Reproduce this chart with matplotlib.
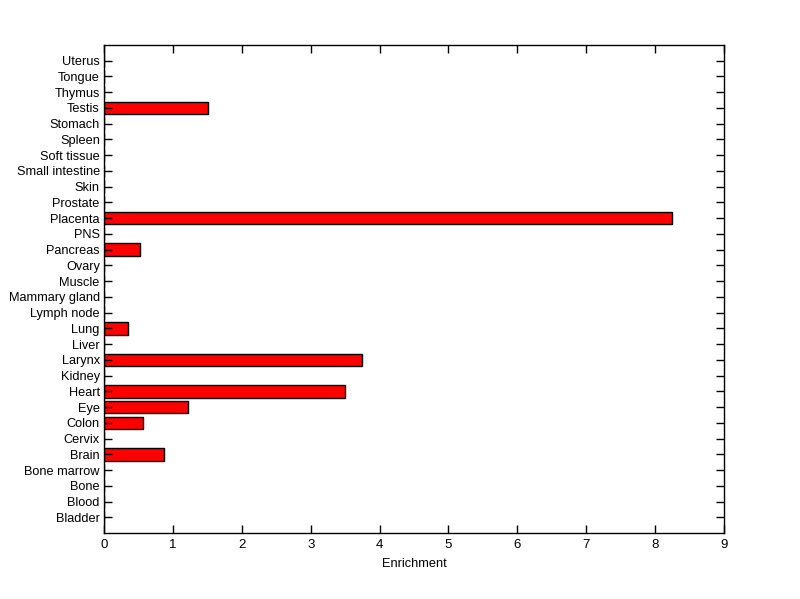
import matplotlib
matplotlib.use("Agg")
import matplotlib.pyplot as plt

categories = ["Bladder", "Blood", "Bone", "Bone marrow", "Brain", "Cervix", "Colon", "Eye",
              "Heart", "Kidney", "Larynx", "Liver", "Lung", "Lymph node", "Mammary gland",
              "Muscle", "Ovary", "Pancreas", "PNS", "Placenta", "Prostate", "Skin",
              "Small intestine", "Soft tissue", "Spleen", "Stomach", "Testis", "Thymus",
              "Tongue", "Uterus"]
values = [0, 0, 0, 0, 0.875, 0, 0.572, 1.225,
          3.50, 0, 3.75, 0, 0.354, 0, 0,
          0, 0, 0.528, 0, 8.25, 0, 0,
          0, 0, 0, 0, 1.515, 0,
          0, 0]
xticks = [0, 1, 2, 3, 4, 5, 6, 7, 8, 9]

plt.rcParams['font.family'] = ['Liberation Sans', 'DejaVu Sans']
fig = plt.figure(figsize=(8, 5.99), dpi=100)
ax = fig.add_axes([0.13, 0.11, 0.775, 0.815])
pos = list(range(1, len(categories) + 1))
ax.barh(pos, values, height=0.8, color='#ff0000', edgecolor='black', linewidth=1.0)
ax.set_ylim(0, len(categories) + 1)
ax.set_xlim(0, 9)
ax.set_yticks(pos)
ax.set_yticklabels(categories, fontsize=9.2)
ax.set_xticks(xticks)
ax.set_xticklabels([str(t) for t in xticks], fontsize=9.5)
ax.tick_params(axis='y', direction='in', length=6, width=1, right=True, pad=3)
ax.tick_params(axis='x', direction='in', length=6, width=1, top=True, pad=4)
for s in ax.spines.values():
    s.set_linewidth(1)
ax.set_xlabel("Enrichment", fontsize=9.2, labelpad=5)
fig.savefig("out.png", dpi=100)
